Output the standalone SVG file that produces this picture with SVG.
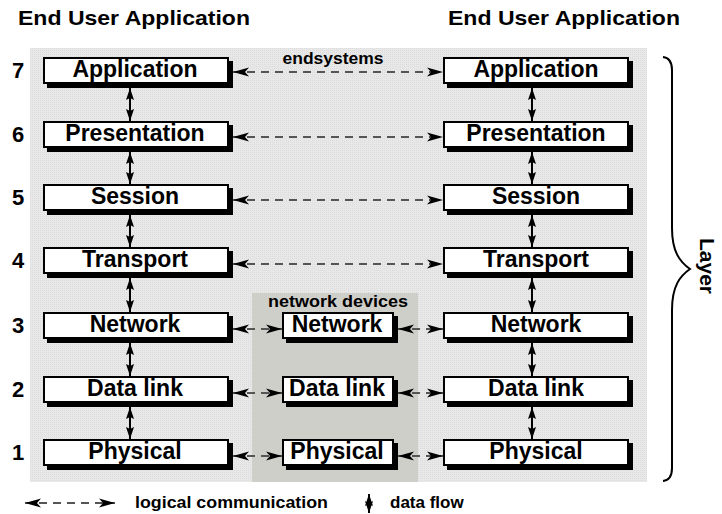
<svg xmlns="http://www.w3.org/2000/svg" width="722" height="514" viewBox="0 0 722 514">
<style>
text{font-family:"Liberation Sans",Arial,Helvetica,sans-serif;font-weight:bold;fill:#000}
.lbl{font-size:23px;text-anchor:middle}
.num{font-size:22px;text-anchor:middle}
.ttl{font-size:21px}
.sml{font-size:16px;text-anchor:middle}
.sh{fill:#000}
.bx{fill:#fff;stroke:#000;stroke-width:2}
.dash{stroke:#555;stroke-width:2;stroke-dasharray:8 6;fill:none}
.vline{stroke:#000;stroke-width:2;fill:none}
</style>
<defs>
<marker id="ah" viewBox="0 0 16 10" refX="16" refY="5" markerWidth="16" markerHeight="10" markerUnits="userSpaceOnUse" orient="auto-start-reverse">
<path d="M16,5 L0,0.5 L4,5 L0,9.5 z" fill="#000"/>
</marker>
<marker id="vh" viewBox="0 0 12 8" refX="12" refY="4" markerWidth="12" markerHeight="8" markerUnits="userSpaceOnUse" orient="auto-start-reverse">
<path d="M12,4 L0,0 L2,4 L0,8 z" fill="#000"/>
</marker>
<pattern id="dith" width="2" height="2" patternUnits="userSpaceOnUse">
<rect width="2" height="2" fill="#e8e8e8"/>
<rect width="1" height="1" fill="#dcdcdc"/>
</pattern>
</defs>

<g id="background">
<rect x="30" y="48" width="617" height="434" fill="url(#dith)"/>
<rect x="252" y="293" width="166" height="189" fill="#cfcfca"/>
</g>

<g id="titles">
<text class="ttl" x="18" y="25" textLength="232" lengthAdjust="spacingAndGlyphs">End User Application</text>
<text class="ttl" x="448" y="25" textLength="232" lengthAdjust="spacingAndGlyphs">End User Application</text>
<text class="sml" x="333" y="64" textLength="101" lengthAdjust="spacingAndGlyphs">endsystems</text>
<text class="sml" x="338" y="307" textLength="140" lengthAdjust="spacingAndGlyphs">network devices</text>
</g>

<g id="layer-numbers">
<text class="num" x="18" y="78">7</text>
<text class="num" x="18" y="142">6</text>
<text class="num" x="18" y="205">5</text>
<text class="num" x="18" y="268">4</text>
<text class="num" x="18" y="333">3</text>
<text class="num" x="18" y="397">2</text>
<text class="num" x="18" y="460">1</text>
</g>

<g id="connectors">
<line class="dash" x1="233" y1="72" x2="443" y2="72" marker-start="url(#ah)" marker-end="url(#ah)"/>
<line class="dash" x1="233" y1="137" x2="443" y2="137" marker-start="url(#ah)" marker-end="url(#ah)"/>
<line class="dash" x1="233" y1="200" x2="443" y2="200" marker-start="url(#ah)" marker-end="url(#ah)"/>
<line class="dash" x1="233" y1="264" x2="443" y2="264" marker-start="url(#ah)" marker-end="url(#ah)"/>
<line class="dash" x1="233" y1="329" x2="282" y2="329" marker-start="url(#ah)" marker-end="url(#ah)"/>
<line class="dash" x1="398" y1="329" x2="443" y2="329" marker-start="url(#ah)" marker-end="url(#ah)"/>
<line class="dash" x1="233" y1="393" x2="282" y2="393" marker-start="url(#ah)" marker-end="url(#ah)"/>
<line class="dash" x1="398" y1="393" x2="443" y2="393" marker-start="url(#ah)" marker-end="url(#ah)"/>
<line class="dash" x1="233" y1="456" x2="282" y2="456" marker-start="url(#ah)" marker-end="url(#ah)"/>
<line class="dash" x1="398" y1="456" x2="443" y2="456" marker-start="url(#ah)" marker-end="url(#ah)"/>
<line class="vline" x1="130" y1="88" x2="130" y2="121" marker-start="url(#vh)" marker-end="url(#vh)"/>
<line class="vline" x1="130" y1="152" x2="130" y2="184" marker-start="url(#vh)" marker-end="url(#vh)"/>
<line class="vline" x1="130" y1="215" x2="130" y2="247" marker-start="url(#vh)" marker-end="url(#vh)"/>
<line class="vline" x1="130" y1="278" x2="130" y2="312" marker-start="url(#vh)" marker-end="url(#vh)"/>
<line class="vline" x1="130" y1="343" x2="130" y2="376" marker-start="url(#vh)" marker-end="url(#vh)"/>
<line class="vline" x1="130" y1="407" x2="130" y2="439" marker-start="url(#vh)" marker-end="url(#vh)"/>
<line class="vline" x1="532" y1="88" x2="532" y2="121" marker-start="url(#vh)" marker-end="url(#vh)"/>
<line class="vline" x1="532" y1="152" x2="532" y2="184" marker-start="url(#vh)" marker-end="url(#vh)"/>
<line class="vline" x1="532" y1="215" x2="532" y2="247" marker-start="url(#vh)" marker-end="url(#vh)"/>
<line class="vline" x1="532" y1="278" x2="532" y2="312" marker-start="url(#vh)" marker-end="url(#vh)"/>
<line class="vline" x1="532" y1="343" x2="532" y2="376" marker-start="url(#vh)" marker-end="url(#vh)"/>
<line class="vline" x1="532" y1="407" x2="532" y2="439" marker-start="url(#vh)" marker-end="url(#vh)"/>
</g>

<g id="left-application"><rect class="sh" x="47" y="61" width="186" height="27"/><rect class="bx" x="44" y="58" width="184" height="25"/><text class="lbl" x="135" y="77">Application</text></g>
<g id="left-presentation"><rect class="sh" x="47" y="125" width="186" height="27"/><rect class="bx" x="44" y="122" width="184" height="25"/><text class="lbl" x="135" y="141">Presentation</text></g>
<g id="left-session"><rect class="sh" x="47" y="188" width="186" height="27"/><rect class="bx" x="44" y="185" width="184" height="25"/><text class="lbl" x="135" y="204">Session</text></g>
<g id="left-transport"><rect class="sh" x="47" y="251" width="186" height="27"/><rect class="bx" x="44" y="248" width="184" height="25"/><text class="lbl" x="135" y="267">Transport</text></g>
<g id="left-network"><rect class="sh" x="47" y="316" width="186" height="27"/><rect class="bx" x="44" y="313" width="184" height="25"/><text class="lbl" x="135" y="332">Network</text></g>
<g id="left-datalink"><rect class="sh" x="47" y="380" width="186" height="27"/><rect class="bx" x="44" y="377" width="184" height="25"/><text class="lbl" x="135" y="396">Data link</text></g>
<g id="left-physical"><rect class="sh" x="47" y="443" width="186" height="27"/><rect class="bx" x="44" y="440" width="184" height="25"/><text class="lbl" x="135" y="459">Physical</text></g>

<g id="mid-network"><rect class="sh" x="286" y="316" width="112" height="27"/><rect class="bx" x="283" y="313" width="110" height="25"/><text class="lbl" x="337" y="332">Network</text></g>
<g id="mid-datalink"><rect class="sh" x="286" y="380" width="112" height="27"/><rect class="bx" x="283" y="377" width="110" height="25"/><text class="lbl" x="337" y="396">Data link</text></g>
<g id="mid-physical"><rect class="sh" x="286" y="443" width="112" height="27"/><rect class="bx" x="283" y="440" width="110" height="25"/><text class="lbl" x="337" y="459">Physical</text></g>

<g id="right-application"><rect class="sh" x="447" y="61" width="186" height="27"/><rect class="bx" x="444" y="58" width="184" height="25"/><text class="lbl" x="536" y="77">Application</text></g>
<g id="right-presentation"><rect class="sh" x="447" y="125" width="186" height="27"/><rect class="bx" x="444" y="122" width="184" height="25"/><text class="lbl" x="536" y="141">Presentation</text></g>
<g id="right-session"><rect class="sh" x="447" y="188" width="186" height="27"/><rect class="bx" x="444" y="185" width="184" height="25"/><text class="lbl" x="536" y="204">Session</text></g>
<g id="right-transport"><rect class="sh" x="447" y="251" width="186" height="27"/><rect class="bx" x="444" y="248" width="184" height="25"/><text class="lbl" x="536" y="267">Transport</text></g>
<g id="right-network"><rect class="sh" x="447" y="316" width="186" height="27"/><rect class="bx" x="444" y="313" width="184" height="25"/><text class="lbl" x="536" y="332">Network</text></g>
<g id="right-datalink"><rect class="sh" x="447" y="380" width="186" height="27"/><rect class="bx" x="444" y="377" width="184" height="25"/><text class="lbl" x="536" y="396">Data link</text></g>
<g id="right-physical"><rect class="sh" x="447" y="443" width="186" height="27"/><rect class="bx" x="444" y="440" width="184" height="25"/><text class="lbl" x="536" y="459">Physical</text></g>

<g id="brace">
<path d="M663,57 Q672,58 672,70 L672,228 C672,252 680,262 690,269 C680,276 672,286 672,310 L672,468 Q672,480 663,481" fill="none" stroke="#000" stroke-width="2"/>
<text x="0" y="0" font-size="21" transform="translate(700,266) rotate(90)" text-anchor="middle">Layer</text>
</g>

<g id="legend">
<line class="dash" x1="25" y1="503" x2="115" y2="503" marker-start="url(#ah)" marker-end="url(#ah)"/>
<text x="135" y="508" font-size="16" textLength="193" lengthAdjust="spacingAndGlyphs">logical communication</text>
<line class="vline" x1="369" y1="494" x2="369" y2="513" marker-start="url(#vh)" marker-end="url(#vh)"/>
<text x="390" y="508" font-size="17">data flow</text>
</g>
</svg>
